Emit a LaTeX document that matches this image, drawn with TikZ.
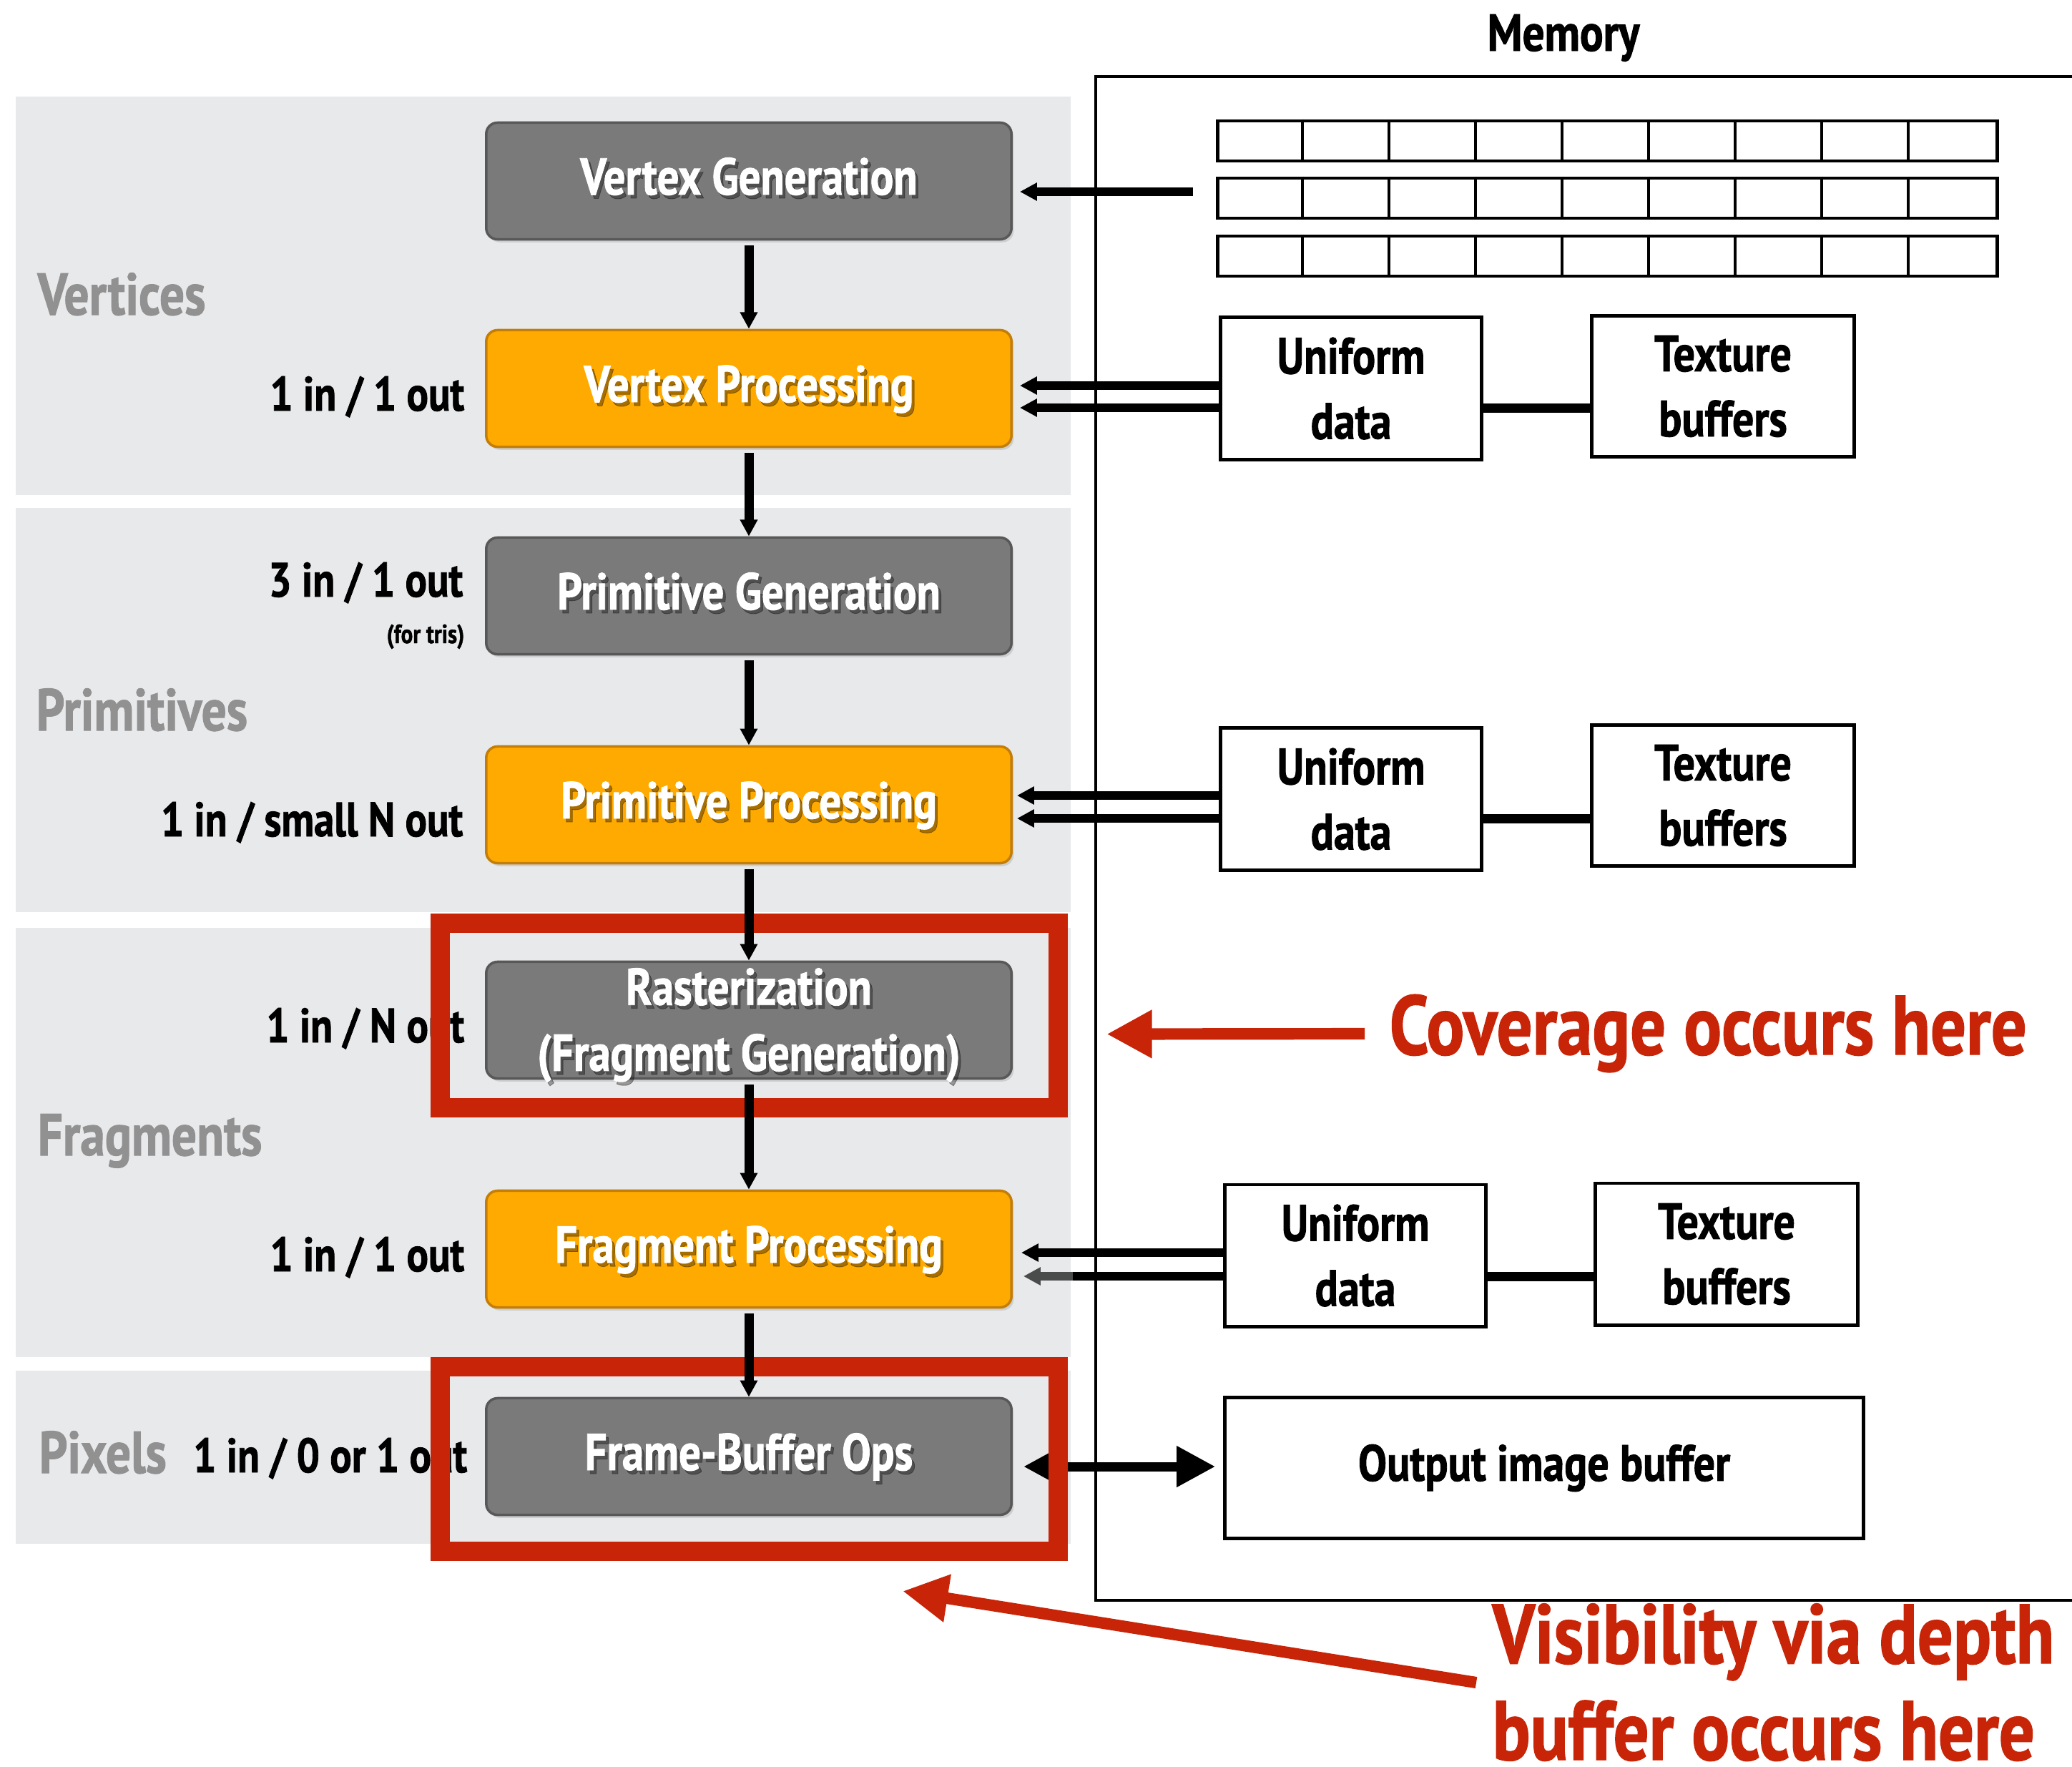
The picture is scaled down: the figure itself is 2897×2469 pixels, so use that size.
\documentclass[tikz,border=0pt]{standalone}
\usepackage{fontspec}
\setmainfont{PT Sans}[FakeStretch=0.84, BoldFeatures={FakeBold=1.2}]
\usetikzlibrary{arrows.meta,shadows}

\definecolor{bandgray}{RGB}{232,233,235}
\definecolor{bandtext}{RGB}{145,145,145}
\definecolor{stagegray}{RGB}{122,122,122}
\definecolor{stagegrayline}{RGB}{88,88,88}
\definecolor{stageorange}{RGB}{255,170,0}
\definecolor{stageorangeline}{RGB}{196,126,8}
\definecolor{alertred}{RGB}{200,36,8}
\definecolor{feedgray}{RGB}{74,76,76}

\tikzset{
  band/.style={fill=bandgray},
  stagebox/.style={rounded corners=4.5pt, minimum width=7.34cm, minimum height=1.63cm,
     line width=1pt, inner sep=0pt,
     drop shadow={shadow xshift=0.9pt, shadow yshift=-1.2pt, opacity=0.25}},
  graystage/.style={stagebox, fill=stagegray, draw=stagegrayline},
  orangestage/.style={stagebox, fill=stageorange, draw=stageorangeline},
  stagefont/.style={font=\fontsize{20.6}{26.2}\selectfont\bfseries, align=center, inner sep=0pt},
  stagetext/.style={stagefont, text=white},
  stageshade/.style={stagefont, text=black, opacity=0.35},
  bandlabel/.style={font=\fontsize{23.5}{28}\selectfont\bfseries, text=bandtext, anchor=base west, inner sep=0pt},
  ratelabel/.style={font=\fontsize{19.2}{24}\selectfont\bfseries, anchor=base east, inner sep=0pt},
  flow/.style={line width=3.7pt, -{Triangle[length=6.6pt, width=6.6pt]}},
  feed/.style={line width=3.5pt, -{Triangle[length=6.8pt, width=6.8pt]}},
  link/.style={line width=3.7pt},
  membox/.style={draw, line width=1.4pt, fill=white, align=center, inner sep=0pt,
     font=\fontsize{20.3}{25.9}\selectfont\bfseries},
  cellrow/.style={draw, line width=1.4pt, minimum width=10.89cm, minimum height=0.56cm, inner sep=0pt},
  redframe/.style={draw=alertred, line width=7.7pt, minimum width=8.64cm, minimum height=2.58cm, inner sep=0pt},
  redarrow/.style={draw=alertred, line width=4.6pt, -{Triangle[length=18pt, width=18pt]}},
  redtext/.style={font=\fontsize{33.4}{39}\selectfont\bfseries, text=alertred, anchor=base west, inner sep=0pt},
}

\begin{document}
\begin{tikzpicture}[x=0.01cm, y=-0.01cm]
\useasboundingbox[fill=white] (0,0) rectangle (2897,2469);

% stage groups
\fill[band] (22,135) rectangle (1497,692);
\fill[band] (22,710) rectangle (1497,1275);
\fill[band] (22,1297) rectangle (1497,1897);
\fill[band] (22,1916) rectangle (1497,2158);

\node[bandlabel] (lv) at (52,440) {Vertices};
\node[bandlabel] (lp) at (50,1021) {Primitives};
\node[bandlabel] (lf) at (52,1615) {Fragments};
\node[bandlabel] (lx) at (54,2059) {Pixels};

% memory
\node[font=\fontsize{20.7}{25}\selectfont\bfseries, anchor=base, inner sep=0pt] (mem) at (2186,71) {Memory};
\draw[line width=1.2pt] (2920,107) -- (1532,107) -- (1532,2237) -- (2920,2237);

\foreach \r/\yc in {1/197, 2/277, 3/358} {
  \node[cellrow] (vb\r) at (2247.5,\yc) {};
  \foreach \k in {1,...,8}
    \draw[line width=1.1pt] ([shift={(\k*121,0)}]vb\r.north west) -- ([shift={(\k*121,0)}]vb\r.south west);
}

\node[membox, minimum width=3.64cm, minimum height=1.98cm] (u1) at (1889,543) {Uniform\\data};
\node[membox, minimum width=3.66cm, minimum height=1.97cm] (t1) at (2409,540) {Texture\\buffers};
\node[membox, minimum width=3.64cm, minimum height=1.98cm] (u2) at (1889,1117) {Uniform\\data};
\node[membox, minimum width=3.66cm, minimum height=1.97cm] (t2) at (2409,1112) {Texture\\buffers};
\node[membox, minimum width=3.64cm, minimum height=1.98cm] (u3) at (1895,1755) {Uniform\\data};
\node[membox, minimum width=3.66cm, minimum height=1.98cm] (t3) at (2414,1753) {Texture\\buffers};
\node[membox, minimum width=8.92cm, minimum height=1.97cm] (out) at (2159,2052) {Output image buffer};

% pipeline stages
\node[graystage] (vg) at (1047,253) {};
\node[orangestage] (vp) at (1047,543) {};
\node[graystage] (pg) at (1047,833) {};
\node[orangestage] (pp) at (1047,1125) {};
\node[graystage] (ra) at (1047,1426) {};
\node[orangestage] (fp) at (1047,1746) {};
\node[graystage] (fb) at (1047,2036) {};

\foreach \n/\t in {vg/Vertex Generation, vp/Vertex Processing, pg/Primitive Generation,
                   pp/Primitive Processing, fp/Fragment Processing, fb/Frame-Buffer Ops} {
  \node[stageshade, anchor=base] (\n s) at ([shift={(4,24)}]\n.center) {\t};
  \node[stagetext, anchor=base] (\n t) at ([shift={(0,19)}]\n.center) {\t};
}
\node[stageshade] (ras) at ([shift={(4,12)}]ra.center) {Rasterization\\(Fragment Generation)};
\node[stagetext] (rat) at ([shift={(0,7)}]ra.center) {Rasterization\\(Fragment Generation)};

% input/output rates
\node[ratelabel] (rvp) at (650,574) {1 in / 1 out};
\node[ratelabel] (rpg) at (648,834) {3 in / 1 out};
\node[ratelabel, font=\fontsize{10.5}{12}\selectfont\bfseries] (rpgn) at (650,899) {(for tris)};
\node[ratelabel] (rpp) at (648,1169) {1 in / small N out};
\node[ratelabel] (rra) at (650,1457) {1 in / N out};
\node[ratelabel] (rfp) at (650,1777) {1 in / 1 out};
\node[ratelabel] (rfb) at (654,2058) {1 in / 0 or 1 out};

% memory traffic
\draw[feed] ([shift={(-32,-9)}]vb2.west) -- ([shift={(10,15)}]vg.east);

\draw[feed] ([shift={(0,-4)}]u1.west) -- ([shift={(10,-4)}]vp.east);
\draw[feed] ([shift={(0,27)}]u1.west) -- ([shift={(10,27)}]vp.east);
\draw[link] ([shift={(0,27)}]u1.east) -- ([shift={(0,30)}]t1.west);

\draw[feed] ([shift={(0,-5)}]u2.west) -- ([shift={(6,-13)}]pp.east);
\draw[feed] ([shift={(0,27)}]u2.west) -- ([shift={(6,19)}]pp.east);
\draw[link] ([shift={(0,27)}]u2.east) -- ([shift={(0,32)}]t2.west);

\draw[feed] ([shift={(0,-4)}]u3.west) -- ([shift={(12,5)}]fp.east);
\draw[feed, color=feedgray] ([shift={(0,29)}]u3.west) -- ([shift={(15,38)}]fp.east);
\draw[line width=3.5pt] ([shift={(0,29)}]u3.west) -- ([shift={(84,38)}]fp.east);
\draw[link] ([shift={(0,29)}]u3.east) -- ([shift={(0,31)}]t3.west);

\draw[line width=3.7pt, {Triangle[length=15.4pt,width=15.4pt]}-{Triangle[length=15.4pt,width=15.4pt]}]
  ([shift={(15,14)}]fb.east) -- ([shift={(-11,-2)}]out.west);

% highlighted stages
\node[redframe] (rf1) at (1047.5,1419.5) {};
\node[redframe] (rf2) at (1047.5,2039.5) {};

% pipeline flow
\draw[flow] ([yshift=-2pt]vg.south) -- (vp.north);
\draw[flow] ([yshift=-2pt]vp.south) -- (pg.north);
\draw[flow] ([yshift=-2pt]pg.south) -- (pp.north);
\draw[flow] ([yshift=-2pt]pp.south) -- (ra.north);
\draw[flow] ([yshift=-2pt]ra.south) -- (fp.north);
\draw[flow] ([yshift=-2pt]fp.south) -- (fb.north);

% annotations
\node[redtext] (cov) at (1942,1474) {Coverage occurs here};
\node[redtext] (vis1) at (2086,2325) {Visibility via depth};
\node[redtext] (vis2) at (2086,2460) {buffer occurs here};
\draw[redarrow] ([shift={(-34,-29)}]cov.base west) -- ([shift={(54,26)}]rf1.east);
\draw[redarrow] ([shift={(-22,27)}]vis1.base west) -- ([shift={(214.5,42)}]rf2.south);
\end{tikzpicture}
\end{document}
